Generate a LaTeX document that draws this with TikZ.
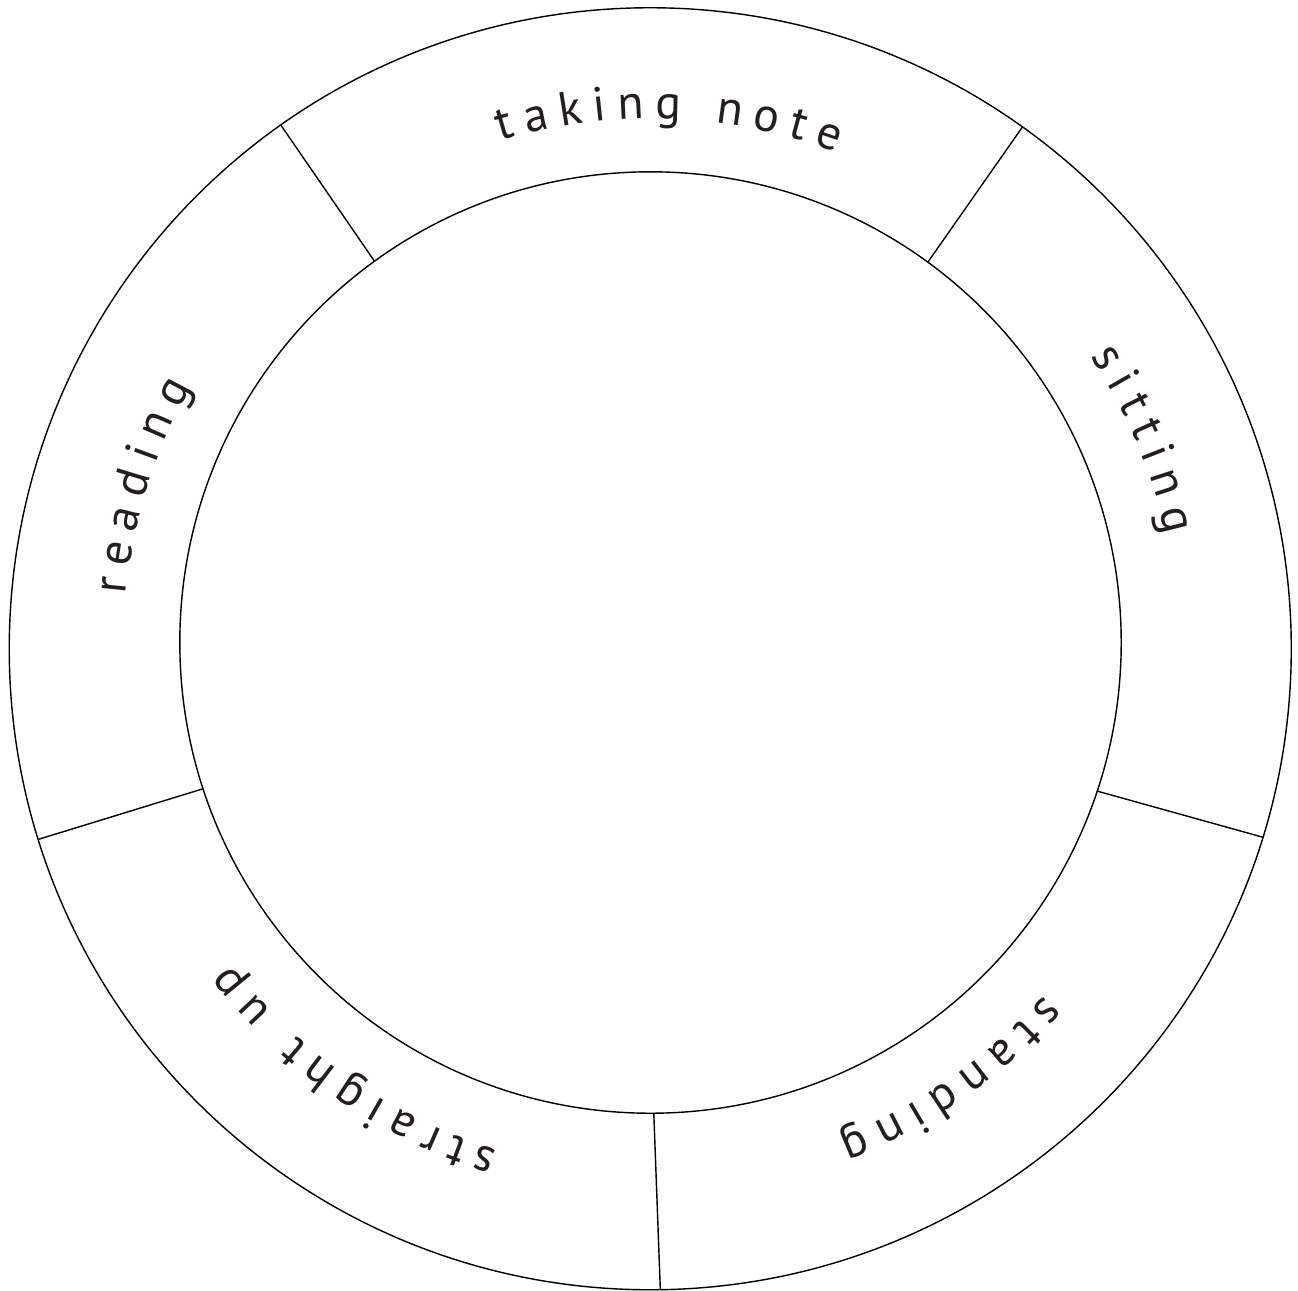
\documentclass[tikz,border=0pt]{standalone}
\usepackage{fontspec}
\usetikzlibrary{decorations.text}
\newfontfamily\lblfont{PT Sans}
\newcommand\lblstyle{\lblfont\fontsize{13.6}{16}\selectfont\kern3.1pt}
\definecolor{ink}{HTML}{231F20}
\tikzset{
  ring/.style={draw=black, line width=0.4pt},
  divider/.style={draw=black, line width=0.4pt},
  arclabel/.style={decorate, decoration={text along path, text align=center, text color=ink, text={|\lblstyle|#1}}}
}
\begin{document}
\begin{tikzpicture}[x=0.01cm,y=0.01cm]
\useasboundingbox (0,0) rectangle (1298,-1290);
\fill[white] (0,0) rectangle (1298,-1290);
% centres
\coordinate (O) at (650.25,-648.75);
\coordinate (I) at (650.5,-642.5);
\coordinate (T) at (650.4,-645.6);
% circles
\draw[ring] (O) circle[radius=641];
\draw[ring] (I) circle[radius=470.7];
% divider end points
\foreach \n/\ao/\ai in {a/125.2/125.9, b/54.5/53.9, c/-17.1/-18.4, d/-89.1/-89.6, e/197.3/198.1}{
  \coordinate (\n o) at ([shift={(\ao:641)}]O);
  \coordinate (\n i) at ([shift={(\ai:470.7)}]I);
}
\draw[divider] (ao) -- (ai);
\draw[divider] (bo) -- (bi);
\draw[divider] (co) -- (ci);
\draw[divider] (do) -- (di);
\draw[divider] (eo) -- (ei);
% labels along the ring
\path[arclabel={taking note}] ([shift={(124.5:527)}]T) arc[start angle=124.5, end angle=52.5, radius=527];
\path[arclabel={sitting}] ([shift={(59.3:527)}]T) arc[start angle=59.3, end angle=-12.7, radius=527];
\path[arclabel={standing}] ([shift={(-18.7:527)}]T) arc[start angle=-18.7, end angle=-90.7, radius=527];
\path[arclabel={straight up}] ([shift={(-88.2:527)}]T) arc[start angle=-88.2, end angle=-160.2, radius=527];
\path[arclabel={reading}] ([shift={(199.1:527)}]T) arc[start angle=199.1, end angle=127.1, radius=527];
\end{tikzpicture}
\end{document}
